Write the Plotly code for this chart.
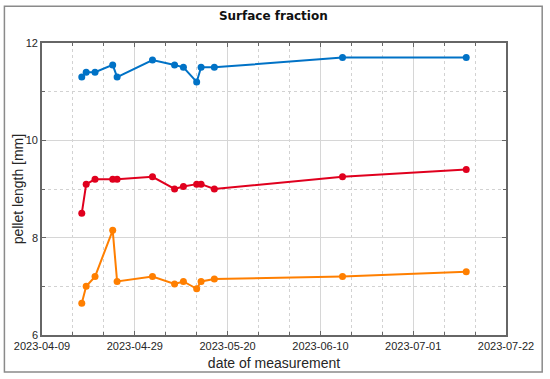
import plotly.graph_objects as go

dates = ["2023-04-17", "2023-04-18", "2023-04-20", "2023-04-24", "2023-04-25",
         "2023-05-03", "2023-05-08", "2023-05-10", "2023-05-13", "2023-05-14",
         "2023-05-17", "2023-06-15", "2023-07-13"]
blue_vals = [11.3, 11.4, 11.4, 11.55, 11.3, 11.65, 11.55, 11.5, 11.2, 11.5, 11.5, 11.7, 11.7]
red_vals = [8.5, 9.1, 9.2, 9.2, 9.2, 9.25, 9.0, 9.05, 9.1, 9.1, 9.0, 9.25, 9.4]
orange_vals = [6.65, 7.0, 7.2, 8.15, 7.1, 7.2, 7.05, 7.1, 6.95, 7.1, 7.15, 7.2, 7.3]

x_tickvals = ["2023-04-08", "2023-04-29", "2023-05-20", "2023-06-10", "2023-07-01", "2023-07-22"]
x_ticktext = ["2023-04-09", "2023-04-29", "2023-05-20", "2023-06-10", "2023-07-01", "2023-07-22"]

series = [(blue_vals, "#0072C6"), (red_vals, "#E0001E"), (orange_vals, "#FF7F00")]

fig = go.Figure()
for vals, col in series:
    fig.add_trace(go.Scatter(x=dates, y=vals, mode="lines+markers",
                             line=dict(color=col, width=2),
                             marker=dict(color=col, size=7),
                             showlegend=False))

font_family = "Liberation Sans, Arial, sans-serif"
axis_common = dict(showline=True, linecolor="#666666", linewidth=1.6, mirror="ticks",
                   ticks="inside", ticklen=4, tickcolor="#666666",
                   showgrid=True, gridcolor="#d6d6d6", gridwidth=1,
                   zeroline=False, automargin=False,
                   tickfont=dict(family=font_family, size=11, color="#262626"))

fig.update_xaxes(**axis_common, type="date",
                 range=["2023-04-08", "2023-07-22"],
                 tickmode="array", tickvals=x_tickvals, ticktext=x_ticktext,
                 minor=dict(tick0="2023-04-08", dtick=7 * 86400000, showgrid=True,
                            griddash="dot", gridcolor="#d2d2d2", gridwidth=1,
                            ticks="inside", ticklen=3, tickcolor="#666666"),
                 title=dict(text="date of measurement", standoff=7,
                            font=dict(family=font_family, size=14, color="#262626")))
fig.update_yaxes(**axis_common, range=[6, 12], dtick=2, tick0=6,
                 minor=dict(dtick=1, showgrid=True, griddash="dot", gridcolor="#d2d2d2",
                            gridwidth=1, ticks="inside", ticklen=3, tickcolor="#666666"))

fig.update_layout(
    width=550, height=379,
    margin=dict(l=42, r=44, t=43, b=44, autoexpand=False),
    paper_bgcolor="white", plot_bgcolor="white",
    title=dict(text="<b>Surface fraction</b>", x=0.497, xanchor="center",
               y=1 - 16 / 379, yanchor="middle",
               font=dict(family="DejaVu Sans, sans-serif", size=12, color="#111111")),
    annotations=[dict(text="pellet length [mm]", textangle=-90, showarrow=False,
                      xref="paper", yref="paper", x=(18 - 41.7) / 464.8, y=0.5,
                      xanchor="center", yanchor="middle",
                      font=dict(family=font_family, size=14, color="#262626"))],
    shapes=[dict(type="rect", xref="paper", yref="paper",
                 x0=-0.081, x1=1.078, y0=-0.1266, y1=1.1255,
                 line=dict(color="#8a8a8a", width=1.5), layer="below")],
)

fig.write_html("out.html", config={"displayModeBar": False},
               post_script="document.body.style.margin='0px';document.body.style.padding='0px';")
